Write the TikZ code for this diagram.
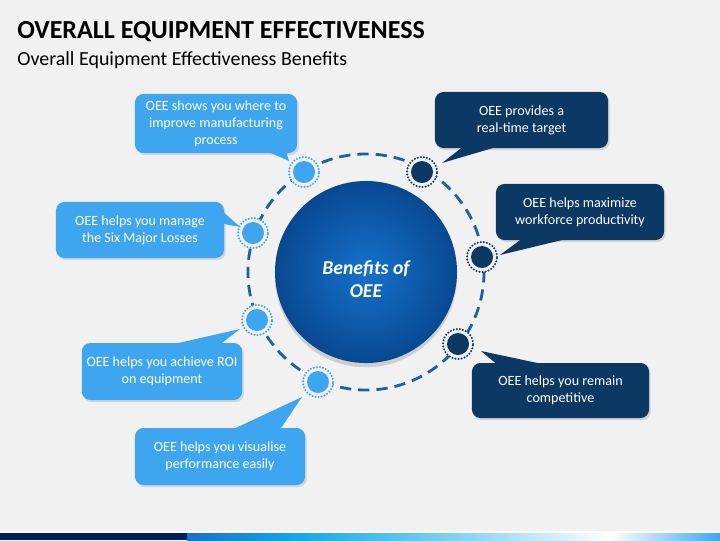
\documentclass[tikz,border=0pt]{standalone}
\usepackage{fontspec}
\setmainfont{Carlito}
\usetikzlibrary{shadows}
\definecolor{Back}{RGB}{241,241,241}
\definecolor{Light}{RGB}{62,166,240}
\definecolor{Dark}{RGB}{12,57,99}
\definecolor{Ring}{RGB}{28,96,165}
\definecolor{HubIn}{RGB}{22,114,204}
\definecolor{HubOut}{RGB}{8,72,145}
\definecolor{Navy}{RGB}{0,30,100}
\definecolor{Cyan}{RGB}{20,170,230}
\definecolor{Pale}{RGB}{150,215,245}

\begin{document}
\begin{tikzpicture}[
    x=0.025cm,
    y=-0.025cm,
    every node/.style={align=center},
    lightbox/.style={
      fill=Light,
      text=white,
      rounded corners=6pt,
      font=\fontsize{10}{12}\selectfont,
      drop shadow={shadow xshift=1.2pt, shadow yshift=-1.5pt, opacity=0.25}
    },
    darkbox/.style={lightbox, fill=Dark},
    hub/.style={
      circle,
      inner color=HubIn,
      outer color=HubOut,
      minimum size=4.55cm,
      drop shadow={shadow xshift=0pt, shadow yshift=-3pt, opacity=0.3}
    },
    hubtext/.style={text=white, font=\fontsize{14}{16.5}\selectfont\bfseries\itshape},
    marker/.style={
      circle,
      minimum size=0.75cm,
      inner sep=0pt,
      fill=Back,
      draw=#1,
      line width=1.6pt,
      dash pattern=on 0pt off 2.2pt,
      line cap=round,
      path picture={\fill[#1] (path picture bounding box.center) circle[radius=0.275cm];}
    },
    ring/.style={draw=Ring, line width=2pt, dash pattern=on 8pt off 5pt}
  ]

    % Canvas
    \fill[Back] (0,0) rectangle (720,540);
    \useasboundingbox (0,0) rectangle (720,540);

    % Bottom strip
    \fill[white] (0,531) rectangle (720,533);
    \fill[Navy] (0,533) rectangle (187,540);
    \fill[left color=HubIn, right color=Cyan] (187,533) rectangle (300,540);
    \fill[left color=Cyan, right color=Pale] (300,533) rectangle (480,540);
    \fill[left color=Pale, right color=white] (480,533) rectangle (610,540);
    \fill[left color=white, right color=Light] (610,533) rectangle (720,540);

    % Heading
    \node[anchor=base west, inner sep=0pt, font=\fontsize{18.5}{20}\selectfont\bfseries] (title) at (17,38) {OVERALL EQUIPMENT EFFECTIVENESS};
    \node[anchor=base west, inner sep=0pt, font=\fontsize{14.2}{16}\selectfont] (subtitle) at (17,65) {Overall Equipment Effectiveness Benefits};

    % Centre and ring
    \node[hub] (hub) at (366,272) {};
    \node[hubtext] (hublabel) at (366,279) {Benefits of\\OEE};
    \draw[ring] (hub.center) circle[radius=2.95cm];

    % Markers on the ring
    \node[marker=Light] (dwhere) at (304,172) {};
    \node[marker=Light] (dlosses) at (253,233) {};
    \node[marker=Light] (droi) at (257,320) {};
    \node[marker=Light] (dvisual) at (318,382) {};
    \node[marker=Dark] (dtarget) at (422,172) {};
    \node[marker=Dark] (dworkforce) at (482,257) {};
    \node[marker=Dark] (dcompete) at (458,344) {};

    % Callout boxes
    \node[lightbox, minimum width=4.05cm, minimum height=1.475cm] (where) at (216,123.5) {OEE shows you where to\\improve manufacturing\\process};
    \node[lightbox, minimum width=4.2cm, minimum height=1.4cm] (losses) at (140,230) {OEE helps you manage\\the Six Major Losses};
    \node[lightbox, minimum width=4.0cm, minimum height=1.425cm] (roi) at (162,371.5) {OEE helps you achieve ROI\\on equipment};
    \node[lightbox, minimum width=4.25cm, minimum height=1.425cm] (visual) at (220,456.5) {OEE helps you visualise\\performance easily};
    \node[darkbox, minimum width=4.325cm, minimum height=1.4cm] (target) at (521.5,120) {OEE provides a\\real-time target};
    \node[darkbox, minimum width=4.2cm, minimum height=1.4cm] (workforce) at (580,212) {OEE helps maximize\\workforce productivity};
    \node[darkbox, minimum width=4.425cm, minimum height=1.375cm] (compete) at (560.5,390.5) {OEE helps you remain\\competitive};

    % Pointer tips
    \coordinate (twhere) at (289,161);
    \coordinate (tlosses) at (240,227);
    \coordinate (troi) at (240,329);
    \coordinate (tvisual) at (302,397);
    \coordinate (ttarget) at (442,163);
    \coordinate (tworkforce) at (500,255);
    \coordinate (tcompete) at (481,351);

    % Pointers
    \fill[Light] ([xshift=-0.725cm, yshift=1pt]where.south east) -- (twhere) -- ([xshift=-0.275cm, yshift=1pt]where.south east) -- cycle;
    \fill[Light] ([xshift=-0.275cm, yshift=-1pt]losses.north east) -- (tlosses) -- ([xshift=-1pt, yshift=-0.55cm]losses.north east) -- cycle;
    \fill[Light] ([xshift=-1.725cm, yshift=-1pt]roi.north east) -- (troi) -- ([xshift=-0.55cm, yshift=-1pt]roi.north east) -- cycle;
    \fill[Light] ([xshift=-1.8cm, yshift=-1pt]visual.north east) -- (tvisual) -- ([xshift=-0.625cm, yshift=-1pt]visual.north east) -- cycle;
    \fill[Dark] ([xshift=0.7cm, yshift=1pt]target.south west) -- (ttarget) -- ([xshift=1.55cm, yshift=1pt]target.south west) -- cycle;
    \fill[Dark] ([xshift=0.65cm, yshift=1pt]workforce.south west) -- (tworkforce) -- ([xshift=1.775cm, yshift=1pt]workforce.south west) -- cycle;
    \fill[Dark] ([xshift=0.625cm, yshift=-1pt]compete.north west) -- (tcompete) -- ([xshift=1.775cm, yshift=-1pt]compete.north west) -- cycle;
  \end{tikzpicture}
\end{document}
